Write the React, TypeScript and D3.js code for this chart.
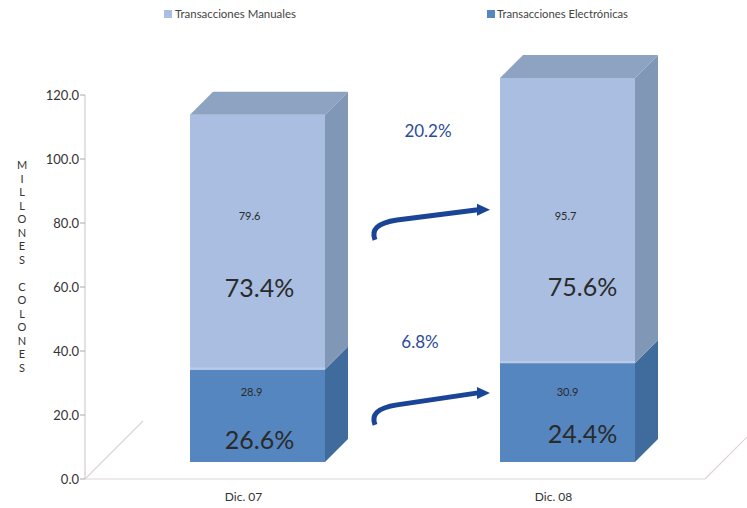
import React from "react";
import * as d3 from "d3";

const categories = ["Dic. 07", "Dic. 08"];
const seriesNames = ["Transacciones Electrónicas", "Transacciones Manuales"];
const electronicas = [28.9, 30.9];
const manuales = [79.6, 95.7];
const pctElectronicas = ["26.6%", "24.4%"];
const pctManuales = ["73.4%", "75.6%"];
const growthLabels = ["6.8%", "20.2%"];
const yTicks = [0, 20, 40, 60, 80, 100, 120];
const yTitle = "MILLONES COLONES";

const W = 747, H = 508;
const DX = 23, DY = 23;
const FONT = "Lato, 'Noto Sans', sans-serif";

const frontColors = ["#5586c0", "#a9bee1"];
const sideColors = ["#3f6c9d", "#8197b6"];
const topColor = "#8ea2c2";
const arrowColor = "#1a4596";

// label placement (in value units on the bar scale) and horizontal nudges
const valueLabelAt = [20.6, 75.5];
const pctLabelAt = [[4, 6], [51.5, 52]];
const valueNudge = [[-6, 0], [-8, -2]];
const pctNudge = [[2, 15], [2, 15]];

export default function App() {
  const yAxis = d3.scaleLinear().domain([0, 120]).range([479, 95]);
  const yBar = d3.scaleLinear().domain([0, 120]).range([462, 78]).clamp(true);
  const x = d3.scalePoint().domain(categories).range([257.5, 567.5]);
  const bw = 135;
  const fmt = d3.format(".1f");

  const stacks = categories.map((c, i) => {
    const vals = [electronicas[i], manuales[i]];
    let acc = 0;
    return vals.map((v, s) => {
      const y0 = acc;
      acc += v;
      return { c, i, s, v, y0, y1: acc };
    });
  });

  const cx = (c: string) => x(c) as number;

  const arrows = [
    { from: 11.6, to: 21.6, label: growthLabels[0], labelVal: 35.5, lx: 420 },
    { from: 69.4, to: 78.8, label: growthLabels[1], labelVal: 101.5, lx: 428 },
  ];
  const ax0 = 375, ax1 = 490;

  return (
    <svg width={W} height={H} style={{ position: "absolute", left: 0, top: 0 }} fontFamily={FONT}>
      <rect width={W} height={H} fill="#fff" />
      <g fontSize={12} fill="#444">
        <rect x={164} y={10} width={8} height={8} fill={frontColors[1]} />
        <text x={175} y={18} textLength={121} lengthAdjust="spacingAndGlyphs">{seriesNames[1]}</text>
        <rect x={487} y={10} width={8} height={8} fill={frontColors[0]} />
        <text x={497} y={18} textLength={131} lengthAdjust="spacingAndGlyphs">{seriesNames[0]}</text>
      </g>
      <g stroke="#ddd5d5" strokeWidth={1.2} fill="none">
        <line x1={85} y1={479} x2={143} y2={421} />
        <line x1={85} y1={479} x2={705} y2={479} />
        <line x1={705} y1={479} x2={763} y2={421} />
      </g>
      <g>
        <line x1={85} y1={yAxis(0)} x2={85} y2={yAxis(120)} stroke="#d5cdcd" strokeWidth={1.2} />
        {yTicks.map((t) => (
          <g key={t}>
            <line x1={80} x2={85} y1={yAxis(t)} y2={yAxis(t)} stroke="#aaa" />
            <text x={79} y={yAxis(t) + 4.5} textAnchor="end" fontSize={13} fill="#333">{fmt(t)}</text>
          </g>
        ))}
      </g>
      <g fontSize={11} fill="#333" textAnchor="middle">
        {yTitle.split("").map((ch, k) => (
          <text key={k} x={22} y={169 + k * 13.5}>{ch}</text>
        ))}
      </g>
      {stacks.map((segs, i) => {
        const c = categories[i];
        const x0 = cx(c) - bw / 2, x1 = cx(c) + bw / 2;
        const topSeg = segs[segs.length - 1];
        const yt = yBar(topSeg.y1);
        return (
          <g key={c}>
            {segs.map((d) => {
              const yb = yBar(d.y0), ytop = yBar(d.y1);
              return (
                <g key={d.s}>
                  <rect x={x0} y={ytop} width={bw} height={yb - ytop} fill={frontColors[d.s]} />
                  <path
                    d={`M${x1},${ytop}L${x1 + DX},${ytop - DY}L${x1 + DX},${yb - DY}L${x1},${yb}Z`}
                    fill={sideColors[d.s]}
                  />
                </g>
              );
            })}
            <line x1={x0} x2={x1} y1={yBar(segs[0].y1) - 1} y2={yBar(segs[0].y1) - 1} stroke="#b9cbe8" strokeWidth={2} />
            <path
              d={`M${x0},${yt}L${x0 + DX},${yt - DY}L${x1 + DX},${yt - DY}L${x1},${yt}Z`}
              fill={topColor}
            />
            {segs.map((d) => (
              <g key={"t" + d.s} fill="#2a2a2a">
                <text x={cx(c) + valueNudge[d.s][i]} y={yBar(valueLabelAt[d.s])} textAnchor="middle" fontSize={11}>
                  {fmt(d.v)}
                </text>
                <text x={cx(c) + pctNudge[d.s][i]} y={yBar(pctLabelAt[d.s][i])} textAnchor="middle" fontSize={25}>
                  {d.s === 0 ? pctElectronicas[i] : pctManuales[i]}
                </text>
              </g>
            ))}
            <text x={cx(c) - 14} y={501} textAnchor="middle" fontSize={12} fill="#333">{c}</text>
          </g>
        );
      })}
      {arrows.map((a, k) => {
        const ys = yBar(a.from), ye = yBar(a.to);
        const path = `M${ax0},${ys}C${ax0 - 4},${ys - 10} ${ax0 + 2},${ys - 17} ${ax0 + 22},${ys - 20}L${ax1 - 12},${ye}`;
        return (
          <g key={k}>
            <path d={path} fill="none" stroke={arrowColor} strokeWidth={5} strokeLinecap="butt" />
            <path d={`M${ax1 - 13},${ye - 6}L${ax1},${ye}L${ax1 - 13},${ye + 6}Z`} fill={arrowColor} />
            <text x={a.lx} y={yBar(a.labelVal)} textAnchor="middle" fontSize={17} fill="#2c4b9c">{a.label}</text>
          </g>
        );
      })}
    </svg>
  );
}
